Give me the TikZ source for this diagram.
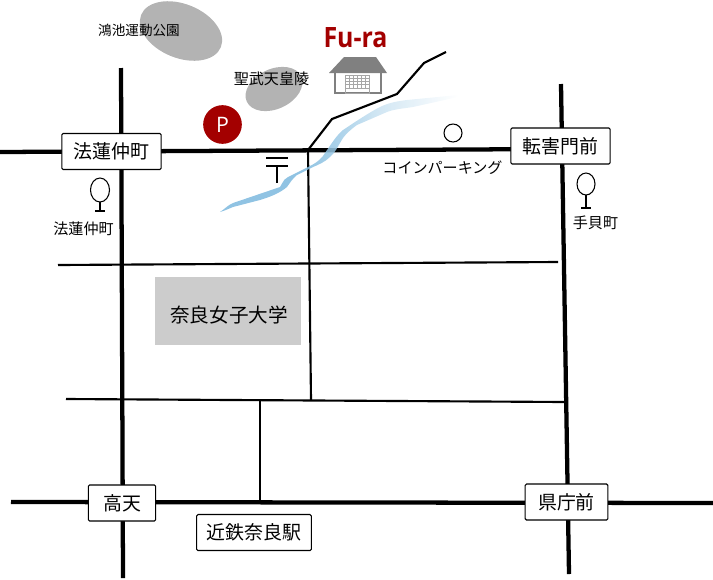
\documentclass[tikz,border=0pt]{standalone}
\usepackage{fontspec}
\setmainfont{Noto Sans CJK JP}
\newfontfamily\latinb[Scale=1]{Open Sans}
\usetikzlibrary{calc}
\definecolor{fred}{HTML}{A30000}
\definecolor{fgray}{HTML}{B3B3B3}
\definecolor{bldg}{HTML}{808080}
\definecolor{river}{RGB}{125,185,222}
\definecolor{campus}{HTML}{CCCCCC}
\pgfdeclarehorizontalshading{rivershade}{100bp}{
  color(0bp)=(river); color(42bp)=(river); color(50bp)=(river!75!white); color(58bp)=(river!42!white);
  color(66bp)=(river!22!white); color(75bp)=(white); color(100bp)=(white)}
\tikzset{
  x=0.75pt,y=-0.75pt,
  road/.style={line width=3.2pt,black},
  thin road/.style={line width=1.6pt,black},
  station/.style={draw=black,line width=0.8pt,fill=white,rounded corners=1pt,minimum height=27pt,inner sep=0pt,font=\fontsize{14.2pt}{16pt}\selectfont},
  maplabel/.style={inner sep=0pt,font=\fontsize{11.3pt}{13pt}\selectfont},
  tree/.style={draw=black,line width=0.8pt},
}
\begin{document}
\begin{tikzpicture}
\useasboundingbox (0,0) rectangle (713,579);
% parks
\fill[fgray,rotate around={-22:(181,31)}] (181,31) ellipse [x radius=43,y radius=27];
\fill[fgray,rotate around={25:(274,89)}] (274,89) ellipse [x radius=30,y radius=20];
% free-end coordinates
\coordinate (wL) at (0,152);\coordinate (wR) at (560,149);
\coordinate (v1T) at (121,68);\coordinate (v1B) at (123,578);
\coordinate (v2T) at (561,84);\coordinate (v2B) at (569,574);
\coordinate (sL) at (11,502);\coordinate (sR) at (713,503);
\coordinate (j) at (308,150);
% roads
\draw[road] (wL) -- (wR);
\draw[road] (v1T) -- (v1B);
\draw[road] (v2T) -- (v2B);
\draw[road] (sL) -- (sR);
\draw[thin road] (j) -- (332,119) -- (397,94) -- (424,63) -- (446,52);
\draw[thin road] (j) -- (311,400);
\draw[thin road] (58,265) -- (558,262);
\draw[thin road] (66,399) -- (565,402);
\draw[thin road] (260,400) -- (260,502);
% river
\shade[shading=rivershade,opacity=.85]
 (220,212) .. controls (226,208) and (228,205) .. (233,203)
 -- (280,187) .. controls (284,180) and (285,178) .. (288,177)
 -- (310,166) .. controls (318,162) and (322,158) .. (325,153)
 .. controls (332,143) and (336,136) .. (343,130)
 .. controls (355,122) and (370,112) .. (380,107)
 .. controls (390,102) and (400,101) .. (407,100)
 -- (458,95) -- (458,97) -- (413,107)
 .. controls (400,109) and (395,109) .. (387,112)
 -- (357,125) .. controls (350,130) and (346,134) .. (343,138)
 .. controls (338,146) and (335,153) .. (330,157)
 .. controls (325,162) and (318,165) .. (313,167)
 -- (297,175) .. controls (292,179) and (290,183) .. (287,187)
 .. controls (280,193) and (270,197) .. (260,200)
 -- (233,207) .. controls (228,209) and (224,211) .. (220,212) -- cycle;
% campus
\fill[campus] (155,277) rectangle (301,345);
\node[inner sep=0pt,font=\fontsize{14.7pt}{16pt}\selectfont] (uni) at (229,315) {奈良女子大学};
% stations
\node[station,minimum width=74.5pt] (s1) at (111.5,151.5) {法蓮仲町};
\node[station,minimum width=74.5pt] (s2) at (560.5,146) {転害門前};
\node[station,minimum width=50.5pt] (s3) at (122,503) {高天};
\node[station,minimum width=62pt] (s4) at (566.5,502) {県庁前};
\node[station,minimum width=86pt] (s5) at (254,532.5) {近鉄奈良駅};
% labels
\node[maplabel,font=\fontsize{10.2pt}{12pt}\selectfont] (l1) at (139,30) {鴻池運動公園};
\node[maplabel] (l2) at (271.5,79) {聖武天皇陵};
\node[maplabel] (l3) at (442.5,168) {コインパーキング};
\node[maplabel] (l4) at (83.5,229) {法蓮仲町};
\node[maplabel] (l5) at (595.5,223) {手貝町};
\node[inner sep=0pt,text=fred,font=\latinb\bfseries\fontsize{21pt}{23pt}\selectfont,xscale=.89] (fura) at (355.5,38) {Fu-ra};
% parking
\node[circle,fill=fred,minimum size=29pt,inner sep=0pt] (p) at (222.5,124.5) {};
\node[text=white,inner sep=0pt,font=\latinb\fontsize{16pt}{18pt}\selectfont] at (p) {P};
% coin parking circle
\node[circle,draw=black,line width=0.8pt,minimum size=13.5pt,inner sep=0pt] (c) at (453,133) {};
% post office mark
\draw[line width=1.7pt] (266,158) -- (288,158) (266,166) -- (288,166) (277,166) -- (277,183);
% trees
\draw[tree] (100,190) ellipse [x radius=9.5,y radius=12];
\draw[tree] (100,202) -- (100,211) (95,211) -- (105,211);
\draw[tree] (586,184) ellipse [x radius=9,y radius=11];
\draw[tree] (586,195) -- (586,208) (581,208) -- (591,208);
% building
\fill[bldg] (344,57) -- (376,57) -- (387,73) -- (329,73) -- cycle;
\draw[bldg,line width=1.5pt] (335,73) -- (335,93) -- (381,93) -- (381,73);
\draw[gray!70,line width=.4pt] (345,75) rectangle (369,93);
\foreach \x in {349,353,357,361,365} \draw[gray!70,line width=.4pt] (\x,75) -- (\x,88);
\foreach \y in {78,81,84,88} \draw[gray!70,line width=.4pt] (345,\y) -- (369,\y);
\end{tikzpicture}
\end{document}
